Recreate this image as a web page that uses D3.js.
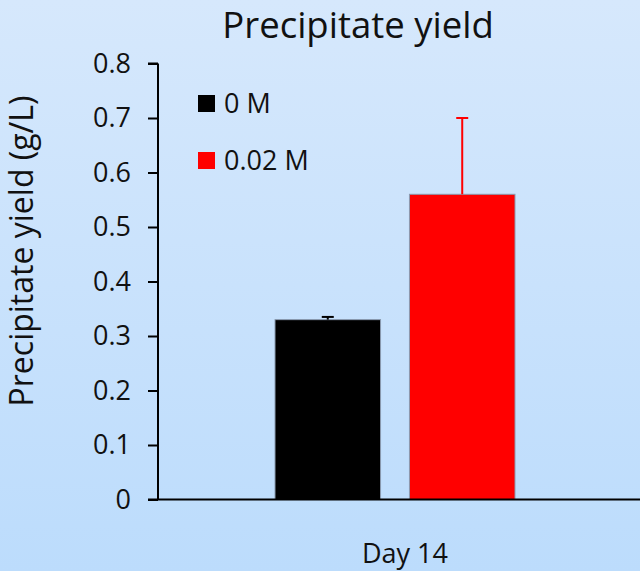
<!DOCTYPE html>
<html>
<head>
<meta charset="utf-8">
<script src="https://cdn.jsdelivr.net/npm/d3@7"></script>
<style>
  html, body { margin: 0; padding: 0; }
  svg { display: block; font-family: "Open Sans", Lato, sans-serif; }
</style>
</head>
<body>
<svg id="chart" width="640" height="571"></svg>
<script>
// Precipitate yield at day 14 for two concentrations
const categories = ["Day 14"];
const seriesNames = ["0 M", "0.02 M"];
const seriesColors = ["#000000", "#ff0000"];
const yieldValues = [[0.33], [0.56]];      // [series][category]
const yieldErrors = [[0.005], [0.14]];     // upper error (g/L)
const yTicks = [0, 0.1, 0.2, 0.3, 0.4, 0.5, 0.6, 0.7, 0.8];

const width = 640, height = 571;
const margin = { left: 158, right: 8 };
const FONT = "'Open Sans', Lato, sans-serif";
const TEXT_COLOR = "#111";

const svg = d3.select("#chart");

// Background gradient
const defs = svg.append("defs");
const grad = defs.append("linearGradient")
  .attr("id", "bg").attr("x1", 0).attr("y1", 0).attr("x2", 0).attr("y2", 1);
grad.append("stop").attr("offset", "0%").attr("stop-color", "#d6e8fc");
grad.append("stop").attr("offset", "100%").attr("stop-color", "#bcdcfc");
svg.append("rect").attr("width", width).attr("height", height).attr("fill", "url(#bg)");

const y = d3.scaleLinear().domain([0, 0.8]).range([499.5, 63.5]);
const x0 = d3.scaleBand().domain(categories).range([margin.left, width - margin.right]);
const groupWidth = 240;
const x1 = d3.scaleBand().domain(seriesNames).range([0, groupWidth]).paddingInner(0.215);
const groupOffset = (x0.bandwidth() - groupWidth) / 2;

// Bars with upper error bars
const g = svg.append("g");
categories.forEach((cat, ci) => {
  seriesNames.forEach((s, si) => {
    const v = yieldValues[si][ci];
    const bx = x0(cat) + groupOffset + x1(s);
    g.append("rect")
      .attr("x", bx)
      .attr("y", y(v))
      .attr("width", x1.bandwidth())
      .attr("height", y(0) - y(v))
      .attr("fill", seriesColors[si])
      .attr("stroke", "#8a9bb0")
      .attr("stroke-width", 1);
    const cx = bx + x1.bandwidth() / 2;
    const top = y(v + yieldErrors[si][ci]);
    g.append("line")
      .attr("x1", cx).attr("x2", cx)
      .attr("y1", y(v)).attr("y2", top)
      .attr("stroke", seriesColors[si]).attr("stroke-width", 2);
    g.append("line")
      .attr("x1", cx - 6).attr("x2", cx + 6)
      .attr("y1", top).attr("y2", top)
      .attr("stroke", seriesColors[si]).attr("stroke-width", 2);
  });
});

// Y axis
const yAxis = svg.append("g")
  .attr("transform", `translate(${margin.left},0)`)
  .call(d3.axisLeft(y).tickValues(yTicks).tickSize(10).tickPadding(17)
    .tickFormat(d => d === 0 ? "0" : d3.format(".1f")(d)));
yAxis.select(".domain").attr("stroke", "#000").attr("stroke-width", 2)
  .attr("d", `M0,${y(0.8)}H-10M0,${y(0.8)}V${y(0)}`);
yAxis.selectAll(".tick line").attr("stroke", "#000").attr("stroke-width", 2);
yAxis.selectAll(".tick text").attr("fill", TEXT_COLOR)
  .style("font-size", "27px").style("font-family", FONT);

// X axis baseline
svg.append("line")
  .attr("x1", margin.left - 10).attr("x2", width)
  .attr("y1", y(0)).attr("y2", y(0))
  .attr("stroke", "#000").attr("stroke-width", 2);

// Category label
categories.forEach(cat => {
  svg.append("text")
    .attr("x", x0(cat) + x0.bandwidth() / 2 + 10)
    .attr("y", 563)
    .attr("text-anchor", "middle")
    .attr("fill", TEXT_COLOR)
    .style("font-size", "27px")
    .text(cat);
});

// Title
svg.append("text")
  .attr("x", 358).attr("y", 38)
  .attr("text-anchor", "middle")
  .attr("fill", TEXT_COLOR)
  .style("font-size", "36.5px")
  .text("Precipitate yield");

// Y axis title
svg.append("text")
  .attr("transform", "translate(33, 251) rotate(-90)")
  .attr("text-anchor", "middle")
  .attr("fill", TEXT_COLOR)
  .style("font-size", "32px")
  .text("Precipitate yield (g/L)");

// Legend
const legend = svg.append("g").attr("transform", "translate(198, 95)");
seriesNames.forEach((s, i) => {
  const row = legend.append("g").attr("transform", `translate(0, ${i * 57})`);
  row.append("rect").attr("width", 17).attr("height", 17).attr("fill", seriesColors[i]);
  row.append("text").attr("x", 26).attr("y", 17.5)
    .attr("fill", TEXT_COLOR).style("font-size", "27px").text(s);
});
</script>
</body>
</html>
